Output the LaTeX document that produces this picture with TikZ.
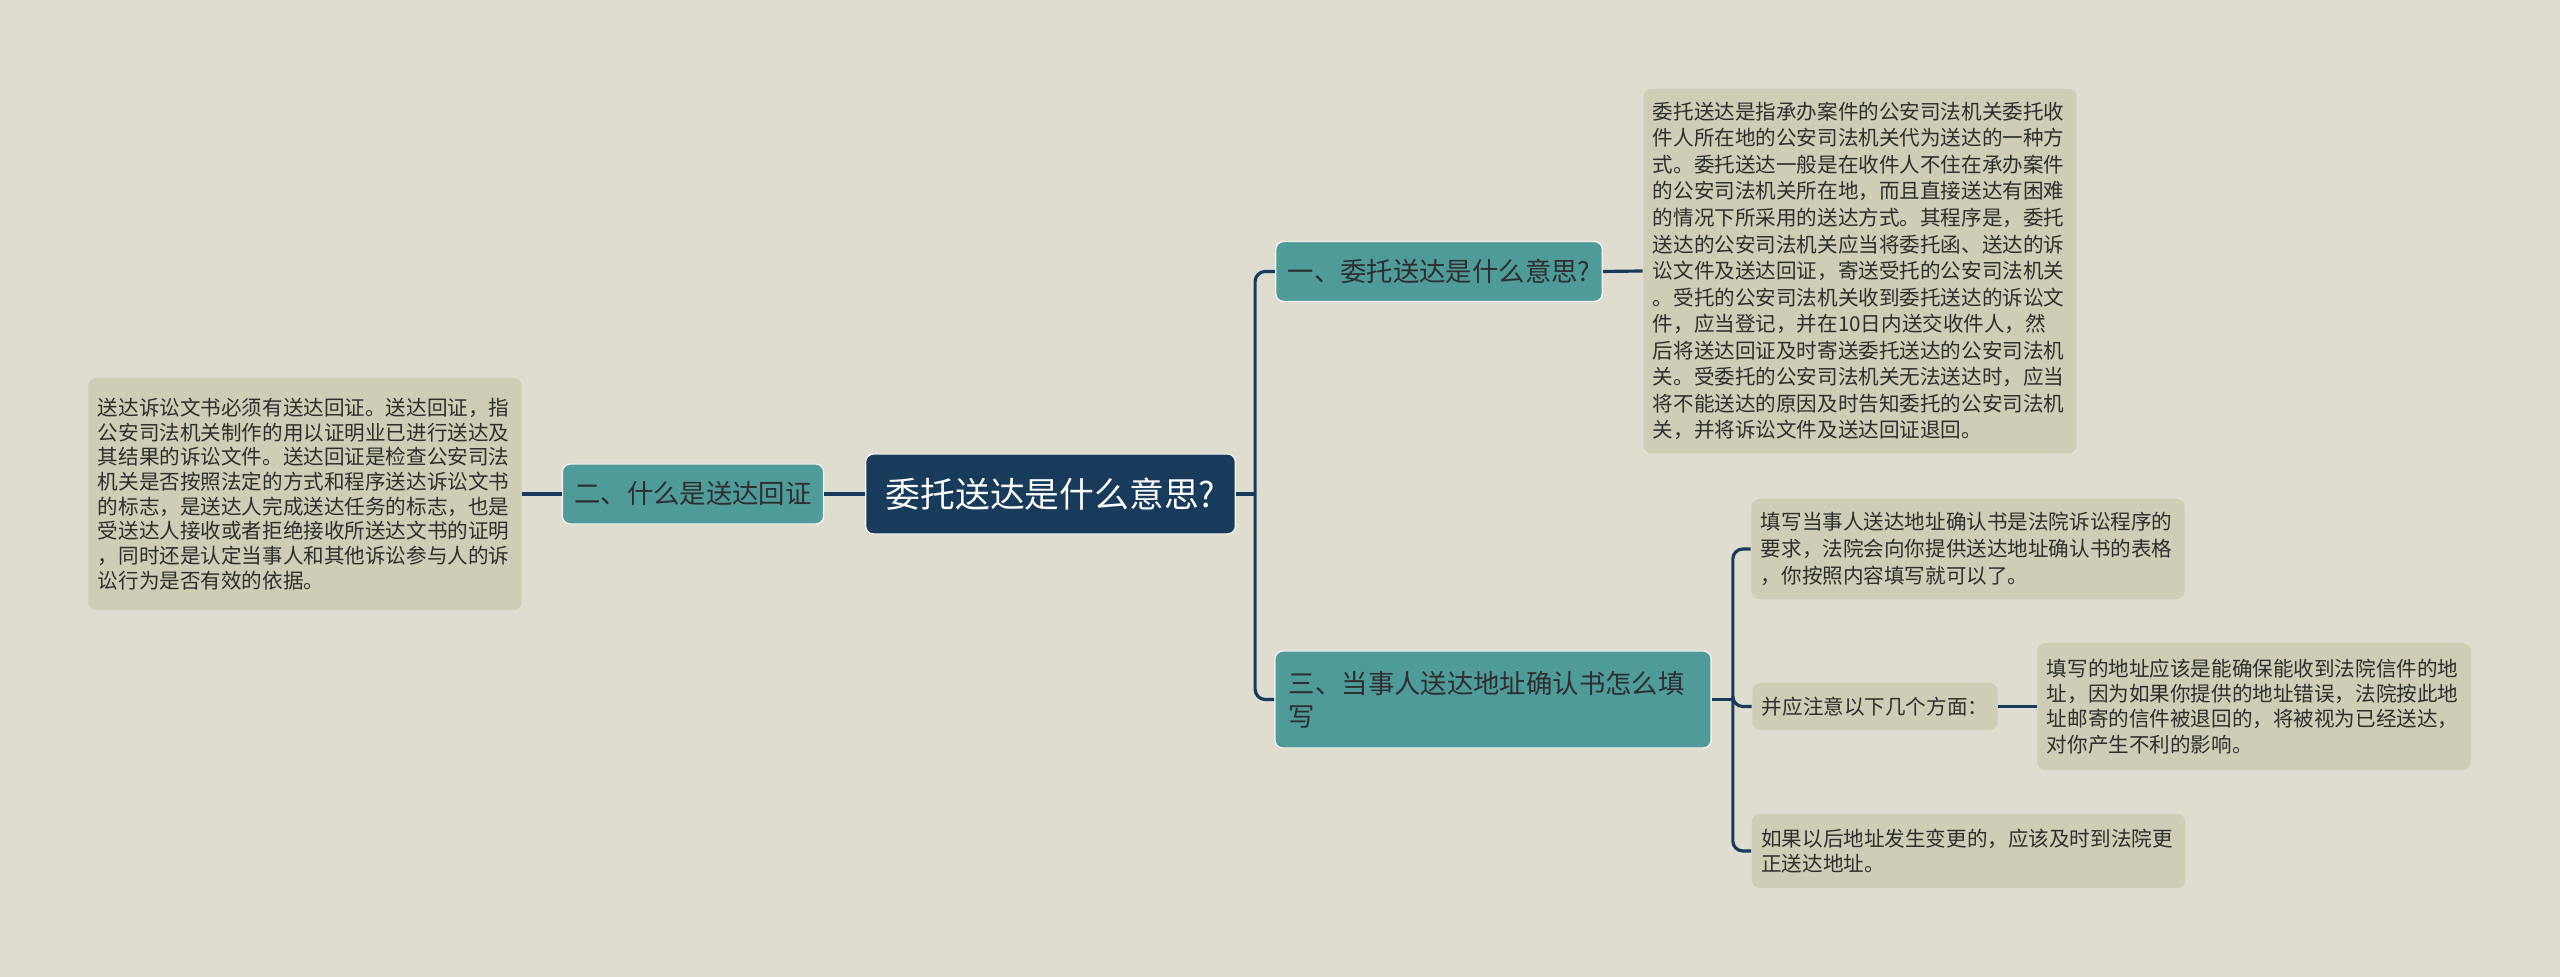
\documentclass[tikz,border=0pt]{standalone}
\usepackage{fontspec}
\setmainfont{Noto Sans CJK SC}

\definecolor{bgc}{HTML}{DFDDCF}
\definecolor{rootc}{HTML}{183B5B}
\definecolor{topicc}{HTML}{4E9B9A}
\definecolor{leafc}{HTML}{CFCDB5}
\definecolor{linkc}{HTML}{183B5B}
\definecolor{textc}{HTML}{2E2E2E}

\tikzset{
	rootbox/.style={fill=rootc, draw=white!70!bgc, line width=0.4pt, text=white, rounded corners=0.08cm, inner xsep=0.2cm, minimum height=0.8cm, font=\fontsize{9.9}{12}\selectfont},
	topicbox/.style={fill=topicc, draw=white!60!bgc, line width=0.4pt, text=textc, rounded corners=0.08cm, inner xsep=0.12cm, minimum height=0.6cm, font=\fontsize{7.5}{9.4}\selectfont},
	leafbox/.style={fill=leafc, text=textc, rounded corners=0.08cm, inner xsep=0.095cm, font=\fontsize{5.85}{7.2}\selectfont},
	leaftext/.style={leafbox, text width=4.14cm, align=left},
	link/.style={draw=linkc, line width=0.9pt, rounded corners=0.1cm}
}

\begin{document}
\begin{tikzpicture}[x=0.01cm,y=-0.01cm]
	\useasboundingbox [fill=bgc] (0,0) rectangle (2560,977);

	\node [rootbox] (root) at (1050.5,494) {委托送达是什么意思?};

	\node [topicbox] (q1) at (1439,271.5) {一、委托送达是什么意思?};
	\node [topicbox] (q2) at (693,494) {二、什么是送达回证};
	\node [topicbox, text width=4.08cm, align=left, inner xsep=0.14cm, minimum height=0.97cm] (q3) at (1493,699.5) {三、当事人送达地址确认书怎么填\\写};

	\node [leaftext, minimum height=3.64cm, font=\fontsize{5.85}{7.55}\selectfont] (d1) at (1860,271) {委托送达是指承办案件的公安司法机关委托收\\
		件人所在地的公安司法机关代为送达的一种方\\
		式。委托送达一般是在收件人不住在承办案件\\
		的公安司法机关所在地，而且直接送达有困难\\
		的情况下所采用的送达方式。其程序是，委托\\
		送达的公安司法机关应当将委托函、送达的诉\\
		讼文件及送达回证，寄送受托的公安司法机关\\
		。受托的公安司法机关收到委托送达的诉讼文\\
		件，应当登记，并在10日内送交收件人，然\\
		后将送达回证及时寄送委托送达的公安司法机\\
		关。受委托的公安司法机关无法送达时，应当\\
		将不能送达的原因及时告知委托的公安司法机\\
		关，并将诉讼文件及送达回证退回。};

	\node [leaftext, minimum height=2.32cm, font=\fontsize{5.85}{7.0}\selectfont] (d2) at (305,494) {送达诉讼文书必须有送达回证。送达回证，指\\
		公安司法机关制作的用以证明业已进行送达及\\
		其结果的诉讼文件。送达回证是检查公安司法\\
		机关是否按照法定的方式和程序送达诉讼文书\\
		的标志，是送达人完成送达任务的标志，也是\\
		受送达人接收或者拒绝接收所送达文书的证明\\
		，同时还是认定当事人和其他诉讼参与人的诉\\
		讼行为是否有效的依据。};

	\node [leaftext, minimum height=1.0cm, font=\fontsize{5.85}{7.75}\selectfont] (d3a) at (1968,549) {填写当事人送达地址确认书是法院诉讼程序的\\
		要求，法院会向你提供送达地址确认书的表格\\
		，你按照内容填写就可以了。};

	\node [leafbox, minimum height=0.47cm] (q3b) at (1875,706.5) {并应注意以下几个方面：};

	\node [leaftext, minimum height=1.27cm] (d3b) at (2254,706.5) {填写的地址应该是能确保能收到法院信件的地\\
		址，因为如果你提供的地址错误，法院按此地\\
		址邮寄的信件被退回的，将被视为已经送达，\\
		对你产生不利的影响。};

	\node [leaftext, minimum height=0.74cm] (d3c) at (1968.5,851) {如果以后地址发生变更的，应该及时到法院更\\
		正送达地址。};

	\draw [link] (root.west) -- (q2.east);
	\draw [link] (q2.west) -- (d2.east);

	\draw [link] (root.east) -- ++(19,0) coordinate (rj);
	\draw [link] (rj) |- (q1.west);
	\draw [link] (rj) |- (q3.west);
	\draw [link] (q1.east) -- (d1.west);

	\draw [link] (q3.east) -- ++(21,0) coordinate (sj);
	\draw [link] (sj) |- (d3a.west);
	\draw [link] (sj) |- (q3b.west);
	\draw [link] (sj) |- (d3c.west);
	\draw [link] (q3b.east) -- (d3b.west);
\end{tikzpicture}
\end{document}
